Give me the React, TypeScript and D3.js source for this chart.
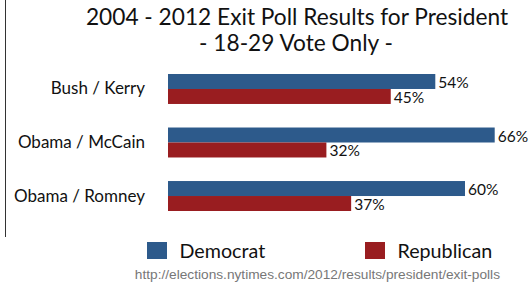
import React from 'react';
import * as d3 from 'd3';

const matchups = ['Bush / Kerry', 'Obama / McCain', 'Obama / Romney'];
const democrat = [54, 66, 60];
const republican = [45, 32, 37];
const seriesNames = ['Democrat', 'Republican'];
const colors = ['#2d5a8b', '#991d20'];

const W = 532;
const H = 290;

const App = () => {
    // x: percent -> pixels
    const x = d3.scaleLinear().domain([0, 100]).range([168, 663]);
    // y: one band per matchup (two stacked 15px bars each)
    const y = d3.scaleBand().domain(matchups).range([74, 211]).paddingInner(0.44).paddingOuter(0);
    const barH = y.bandwidth() / 2;
    const font = 'Lato, "Open Sans", sans-serif';

    return (
        <svg width={W} height={H} style={{ position: 'absolute', left: 0, top: 0 }}>
            <line x1={5.5} x2={5.5} y1={0} y2={237} stroke="#333" strokeWidth={1} />

            <text x={297} y={25} textAnchor="middle" fontFamily={font} fontSize={22.7} fill="#111">
                2004 - 2012 Exit Poll Results for President
            </text>
            <text x={296} y={50.5} textAnchor="middle" fontFamily={font} fontSize={22.7} fill="#111">
                - 18-29 Vote Only -
            </text>

            {matchups.map((m, i) => {
                const top = y(m)!;
                const vals = [democrat[i], republican[i]];
                return (
                    <g key={m}>
                        <text x={145} y={top + barH + 5.5} textAnchor="end"
                            fontFamily={font} fontSize={17} fill="#111">{m}</text>
                        {vals.map((v, j) => (
                            <g key={j}>
                                <rect x={x(0)} y={top + j * barH} width={x(v) - x(0)} height={barH} fill={colors[j]} />
                                <text x={x(v) + 3} y={top + (j + 1) * barH - 1}
                                    fontFamily={font} fontSize={15.5} fill="#111">{v}%</text>
                            </g>
                        ))}
                    </g>
                );
            })}

            {seriesNames.map((s, j) => {
                const lx = j === 0 ? 147 : 365;
                return (
                    <g key={s}>
                        <rect x={lx} y={242} width={20} height={17} fill={colors[j]} />
                        <text x={lx + 32.5} y={257.7} fontFamily={font} fontSize={19.7} fill="#111">{s}</text>
                    </g>
                );
            })}

            <text x={500} y={278.7} textAnchor="end" fontFamily='"Liberation Sans", Arial, sans-serif'
                fontSize={13.7} fill="#777">http://elections.nytimes.com/2012/results/president/exit-polls</text>
        </svg>
    );
};

export default App;
